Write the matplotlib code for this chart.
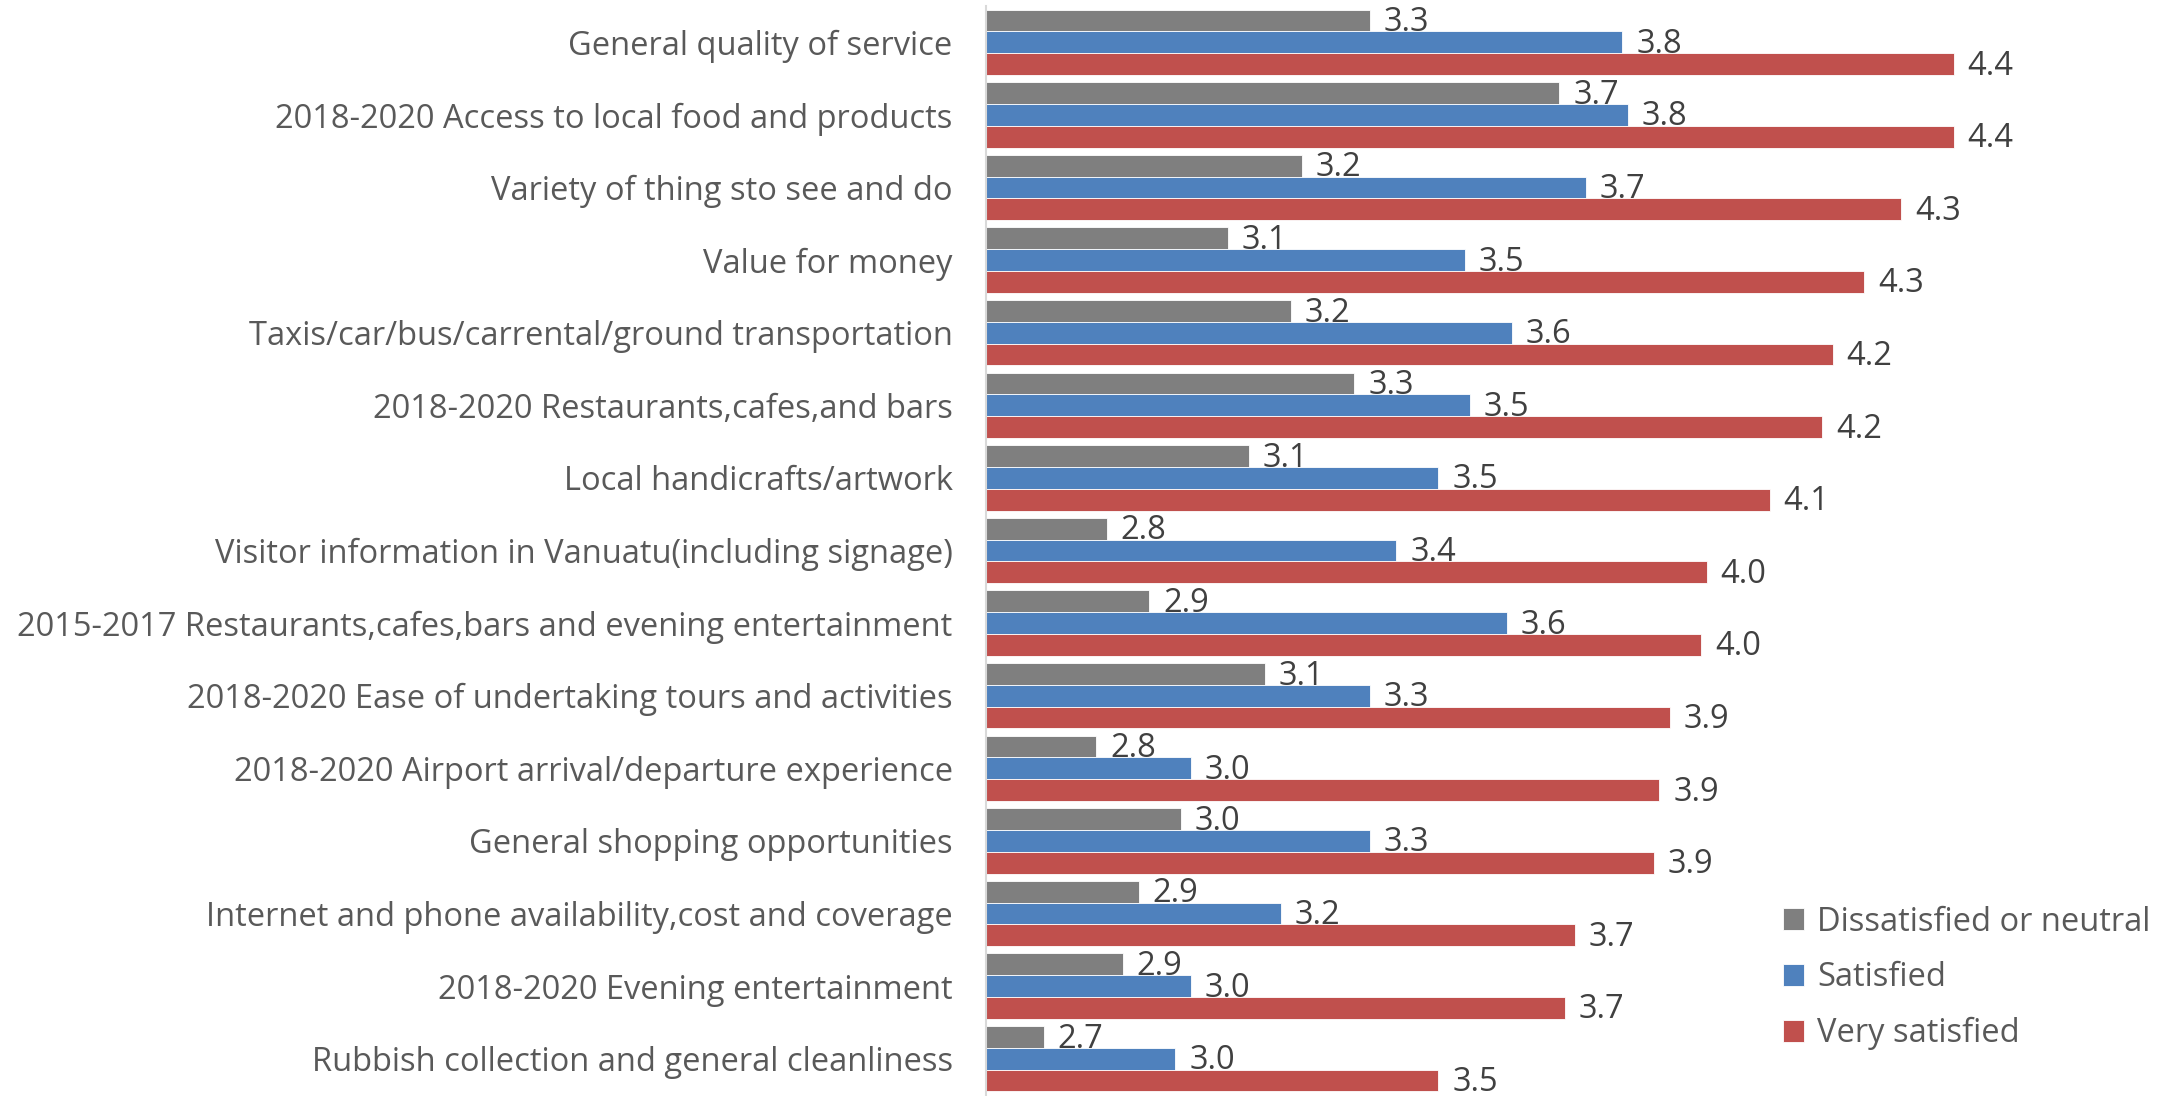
import numpy as np
import matplotlib.pyplot as plt

plt.rcParams['font.family'] = ['Open Sans', 'DejaVu Sans']

# Mean satisfaction score per service aspect, listed top to bottom
categories = [
    'General quality of service',
    '2018-2020 Access to local food and products',
    'Variety of thing sto see and do',
    'Value for money',
    'Taxis/car/bus/carrental/ground transportation',
    '2018-2020 Restaurants,cafes,and bars',
    'Local handicrafts/artwork',
    'Visitor information in Vanuatu(including signage)',
    '2015-2017 Restaurants,cafes,bars and evening entertainment',
    '2018-2020 Ease of undertaking tours and activities',
    '2018-2020 Airport arrival/departure experience',
    'General shopping opportunities',
    'Internet and phone availability,cost and coverage',
    '2018-2020 Evening entertainment',
    'Rubbish collection and general cleanliness',
]
dissatisfied = [3.33, 3.69, 3.20, 3.06, 3.18, 3.30, 3.10, 2.83, 2.91, 3.13, 2.81, 2.97, 2.89, 2.86, 2.71]
satisfied = [3.81, 3.82, 3.74, 3.51, 3.60, 3.52, 3.46, 3.38, 3.59, 3.33, 2.99, 3.33, 3.16, 2.99, 2.96]
very_satisfied = [4.44, 4.44, 4.34, 4.27, 4.21, 4.19, 4.09, 3.97, 3.96, 3.90, 3.88, 3.87, 3.72, 3.70, 3.46]

series = [
    ('Dissatisfied or neutral', dissatisfied, '#7f7f7f'),
    ('Satisfied', satisfied, '#4f81bd'),
    ('Very satisfied', very_satisfied, '#c0504d'),
]

fig = plt.figure(figsize=(21.77, 10.96), dpi=100)
ax = fig.add_axes([986 / 2177, 1 / 1096, 1052 / 2177, 1089 / 1096])

y = np.arange(len(categories))
h = 0.3
handles = []
for i, (name, vals, color) in enumerate(series):
    pos = y + (i - 1) * h
    bars = ax.barh(pos, vals, h, color=color, edgecolor='white', linewidth=0.6, label=name)
    handles.append(bars)
    for p, v in zip(pos, vals):
        ax.annotate(f'{v:.1f}', (v, p), xytext=(10, -1.5), textcoords='offset points',
                    va='center', ha='left', fontsize=23.5, color='#404040')

ax.set_xlim(2.6, 4.6)
ax.set_ylim(len(categories) - 0.5, -0.5)
ax.set_yticks(y)
ax.set_yticklabels(categories, fontsize=23.5, color='#595959')
ax.tick_params(axis='y', length=0, pad=24)
ax.set_xticks([])
for s in ['top', 'right', 'bottom']:
    ax.spines[s].set_visible(False)
ax.spines['left'].set_color('#d9d9d9')
ax.spines['left'].set_linewidth(1.5)

fig.legend(handles=handles, loc='center left', bbox_to_anchor=(1783 / 2177, 1 - 978 / 1096),
           frameon=False, fontsize=23.5, labelcolor='#595959', handlelength=0.65,
           handleheight=0.65, handletextpad=0.4, labelspacing=0.7, borderpad=0,
           borderaxespad=0)

fig.savefig('out.png', dpi=100)
